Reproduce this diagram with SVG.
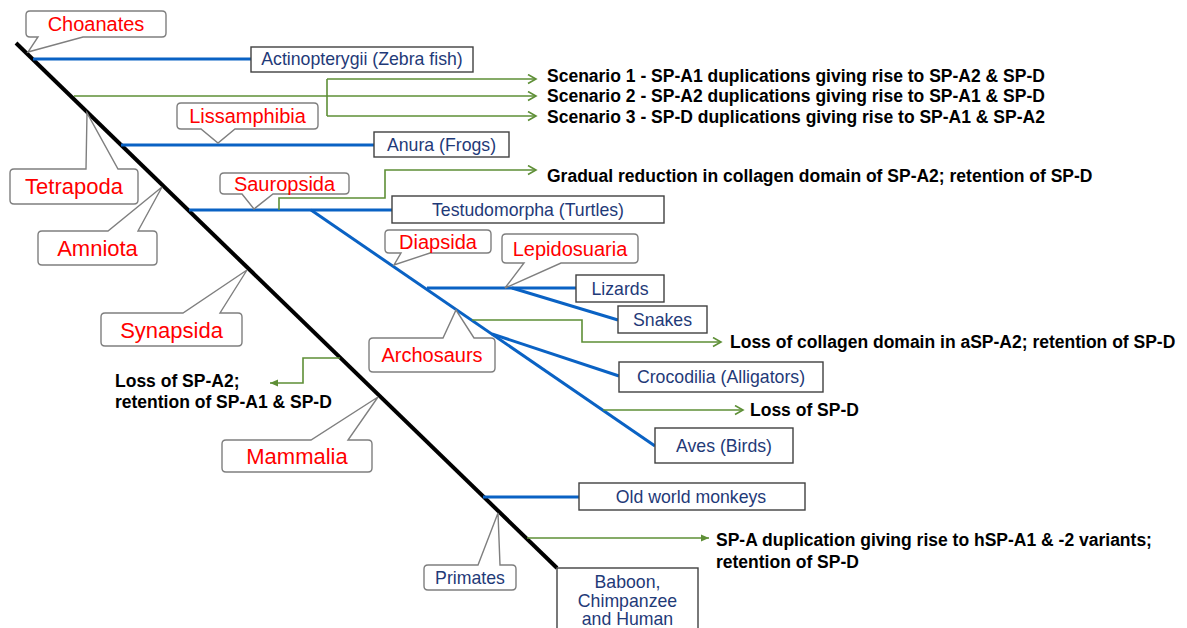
<svg xmlns="http://www.w3.org/2000/svg" width="1187" height="628" viewBox="0 0 1187 628">
<style>
.bg{fill:#ffffff}
.main{stroke:#000000;stroke-width:4;fill:none;stroke-linecap:butt}
.bl{stroke:#0A62C4;stroke-width:3;fill:none}
.gr{stroke:#5E8F36;stroke-width:1.6;fill:none}
.grA{stroke:#5E8F36;stroke-width:1.6;fill:none;marker-end:url(#openArrow)}
.grF{stroke:#5E8F36;stroke-width:1.6;fill:none;marker-end:url(#fillArrow)}
.call{fill:#ffffff;stroke:#7F7F7F;stroke-width:1.4;stroke-linejoin:miter}
.box{fill:#ffffff;stroke:#404040;stroke-width:1.4}
.red{font-family:"Liberation Sans",Arial,sans-serif;fill:#FF0000;text-anchor:middle}
.r20{font-size:20px}
.r22{font-size:22px}
.blu{font-family:"Liberation Sans",Arial,sans-serif;font-size:17.7px;fill:#1F3A78;text-anchor:middle}
.note{font-family:"Liberation Sans",Arial,sans-serif;font-size:17.5px;font-weight:bold;fill:#000000}
</style>
<defs>
<marker id="openArrow" markerUnits="userSpaceOnUse" markerWidth="12" markerHeight="12" refX="9" refY="5" orient="auto">
<path d="M1,0.5 L9,5 L1,9.5" fill="none" stroke="#5E8F36" stroke-width="1.6"/>
</marker>
<marker id="fillArrow" markerUnits="userSpaceOnUse" markerWidth="10" markerHeight="10" refX="8" refY="4" orient="auto">
<path d="M0,0.5 L8,4 L0,7.5 Z" fill="#5E8F36"/>
</marker>
</defs>
<rect class="bg" x="0" y="0" width="1187" height="628"/>

<g id="connectors">
<line class="main" x1="16" y1="43" x2="557" y2="568"/>
<line class="bl" x1="33" y1="59" x2="251" y2="59"/>
<line class="bl" x1="121" y1="145" x2="374" y2="145"/>
<line class="bl" x1="189" y1="210" x2="392" y2="210"/>
<line class="bl" x1="311" y1="210" x2="655" y2="446"/>
<line class="bl" x1="427" y1="288" x2="576" y2="288"/>
<line class="bl" x1="512" y1="288" x2="618" y2="320"/>
<line class="bl" x1="492" y1="334" x2="619" y2="376"/>
<line class="bl" x1="483" y1="497" x2="579" y2="497"/>
<line class="gr" x1="74" y1="96" x2="327" y2="96"/>
<line class="gr" x1="327" y1="79" x2="327" y2="116"/>
<line class="grA" x1="327" y1="79" x2="536" y2="79"/>
<line class="grA" x1="327" y1="96" x2="536" y2="96"/>
<line class="grA" x1="327" y1="116" x2="536" y2="116"/>
<polyline class="grA" points="279,210 279,198 385,198 385,170 536,170"/>
<polyline class="grA" points="472,320 582,320 582,342 721,342"/>
<line class="grA" x1="603" y1="410" x2="743" y2="410"/>
<polyline class="grF" points="340,358 303,358 303,383 270,383"/>
<line class="grF" x1="527" y1="538" x2="709" y2="538"/>
</g>

<g id="choanates">
<path class="call" d="M30,11 H162 Q166,11 166,15 V33 Q166,37 162,37 H83 L28,52 L38,37 H30 Q26,37 26,33 V15 Q26,11 30,11 Z"/>
<text class="red r20" x="96" y="31">Choanates</text>
</g>
<g id="actinopterygii">
<rect class="box" x="251" y="47" width="222" height="25"/>
<text class="blu" x="362" y="65">Actinopterygii (Zebra fish)</text>
</g>
<g id="lissamphibia">
<path class="call" d="M181,103 H314 Q318,103 318,107 V125 Q318,129 314,129 H235 L218,143 L201,129 H181 Q177,129 177,125 V107 Q177,103 181,103 Z"/>
<text class="red r20" x="247.5" y="123">Lissamphibia</text>
</g>
<g id="anura">
<rect class="box" x="374" y="132" width="135" height="25"/>
<text class="blu" x="441.5" y="150.5">Anura (Frogs)</text>
</g>
<g id="tetrapoda">
<path class="call" d="M14,169 H86 L87,113 L118,169 H134 Q138,169 138,173 V200 Q138,204 134,204 H14 Q10,204 10,200 V173 Q10,169 14,169 Z"/>
<text class="red r22" x="74" y="194">Tetrapoda</text>
</g>
<g id="sauropsida">
<path class="call" d="M224,173 H345 Q349,173 349,177 V190 Q349,194 345,194 H273 L254,209 L242,194 H224 Q220,194 220,190 V177 Q220,173 224,173 Z"/>
<text class="red r20" x="284.5" y="190.5">Sauropsida</text>
</g>
<g id="testudomorpha">
<rect class="box" x="392" y="196" width="272" height="27"/>
<text class="blu" x="528" y="215.5">Testudomorpha (Turtles)</text>
</g>
<g id="amniota">
<path class="call" d="M42,231 H108 L162,187 L138,231 H153 Q157,231 157,235 V261 Q157,265 153,265 H42 Q38,265 38,261 V235 Q38,231 42,231 Z"/>
<text class="red r22" x="97.5" y="256">Amniota</text>
</g>
<g id="diapsida">
<path class="call" d="M389,230 H487 Q491,230 491,234 V249 Q491,253 487,253 H430 L394,265 L401,253 H389 Q385,253 385,249 V234 Q385,230 389,230 Z"/>
<text class="red r20" x="438" y="248.5">Diapsida</text>
</g>
<g id="lepidosuaria">
<path class="call" d="M506,234 H634 Q638,234 638,238 V259 Q638,263 634,263 H561 L505,288 L524,263 H506 Q502,263 502,259 V238 Q502,234 506,234 Z"/>
<text class="red r20" x="570" y="255.5">Lepidosuaria</text>
</g>
<g id="lizards">
<rect class="box" x="576" y="275" width="88" height="27"/>
<text class="blu" x="620" y="294.5">Lizards</text>
</g>
<g id="snakes">
<rect class="box" x="618" y="306" width="89" height="27"/>
<text class="blu" x="662.5" y="325.5">Snakes</text>
</g>
<g id="synapsida">
<path class="call" d="M105,313 H183 L247,270 L220,313 H238 Q242,313 242,317 V342 Q242,346 238,346 H105 Q101,346 101,342 V317 Q101,313 105,313 Z"/>
<text class="red r22" x="171.5" y="337.5">Synapsida</text>
</g>
<g id="archosaurs">
<path class="call" d="M373,338 H443 L456,310 L474,338 H491 Q495,338 495,342 V368 Q495,372 491,372 H373 Q369,372 369,368 V342 Q369,338 373,338 Z"/>
<text class="red r20" x="432" y="362">Archosaurs</text>
</g>
<g id="crocodilia">
<rect class="box" x="619" y="362" width="204" height="30"/>
<text class="blu" x="721" y="383">Crocodilia (Alligators)</text>
</g>
<g id="aves">
<rect class="box" x="655" y="428" width="138" height="35"/>
<text class="blu" x="724" y="451.5">Aves (Birds)</text>
</g>
<g id="mammalia">
<path class="call" d="M226,440 H311 L378,397 L348,440 H368 Q372,440 372,444 V468 Q372,472 368,472 H226 Q222,472 222,468 V444 Q222,440 226,440 Z"/>
<text class="red r22" x="297" y="464">Mammalia</text>
</g>
<g id="old-world-monkeys">
<rect class="box" x="579" y="483" width="226" height="27"/>
<text class="blu" x="691" y="502.5">Old world monkeys</text>
</g>
<g id="primates">
<path class="call" d="M428,565 H478 L498,513 L500,565 H512 Q516,565 516,569 V586 Q516,590 512,590 H428 Q424,590 424,586 V569 Q424,565 428,565 Z"/>
<text class="blu" x="470" y="583.5">Primates</text>
</g>
<g id="baboon-chimpanzee-human">
<rect class="box" x="557" y="568" width="141" height="80"/>
<text class="blu" x="627.5" y="588">Baboon,</text>
<text class="blu" x="627.5" y="607">Chimpanzee</text>
<text class="blu" x="627.5" y="625">and Human</text>
</g>

<g id="notes">
<text class="note" x="547" y="82">Scenario 1 - SP-A1 duplications giving rise to SP-A2 &amp; SP-D</text>
<text class="note" x="547" y="102">Scenario 2 - SP-A2 duplications giving rise to SP-A1 &amp; SP-D</text>
<text class="note" x="547" y="123">Scenario 3 - SP-D duplications giving rise to SP-A1 &amp; SP-A2</text>
<text class="note" x="547" y="182">Gradual reduction in collagen domain of SP-A2; retention of SP-D</text>
<text class="note" x="730" y="348">Loss of collagen domain in aSP-A2; retention of SP-D</text>
<text class="note" x="750" y="416">Loss of SP-D</text>
<text class="note" x="115" y="387">Loss of SP-A2;</text>
<text class="note" x="115" y="408">retention of SP-A1 &amp; SP-D</text>
<text class="note" x="716" y="546">SP-A duplication giving rise to hSP-A1 &amp; -2 variants;</text>
<text class="note" x="716" y="568">retention of SP-D</text>
</g>
</svg>
